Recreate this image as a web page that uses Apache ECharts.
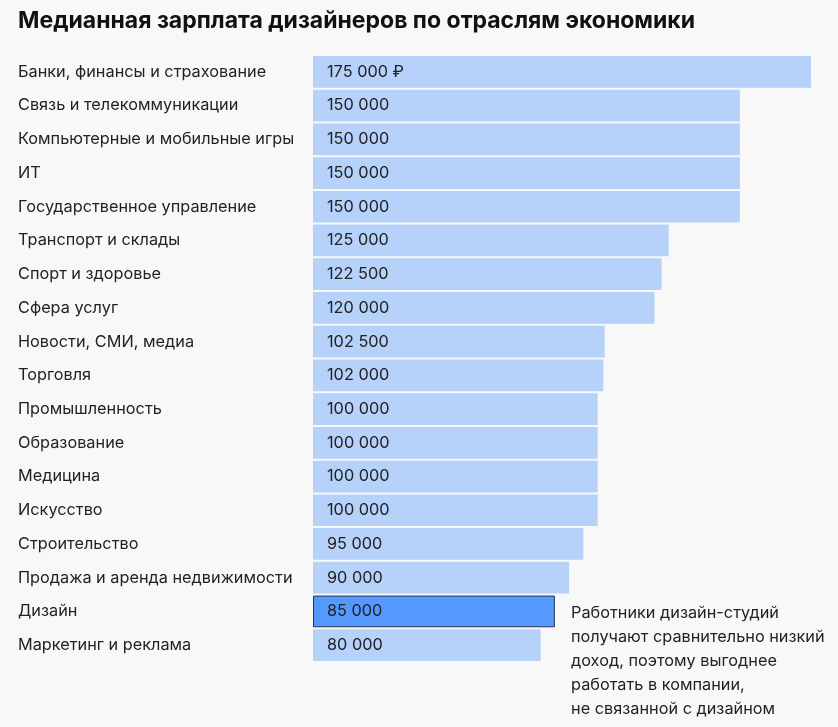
<!DOCTYPE html>
<html><head><meta charset="utf-8">
<script src="https://cdn.jsdelivr.net/npm/echarts@6/dist/echarts.min.js"></script>
<style>html,body{margin:0;padding:0;background:#f8f8f8}#c{width:838px;height:727px}</style>
</head><body><div id="c"></div>
<script>
const categories = ["Банки, финансы и страхование","Связь и телекоммуникации","Компьютерные и мобильные игры","ИТ","Государственное управление","Транспорт и склады","Спорт и здоровье","Сфера услуг","Новости, СМИ, медиа","Торговля","Промышленность","Образование","Медицина","Искусство","Строительство","Продажа и аренда недвижимости","Дизайн","Маркетинг и реклама"];
const values = [175000,150000,150000,150000,150000,125000,122500,120000,102500,102000,100000,100000,100000,100000,95000,90000,85000,80000];
const highlight = "Дизайн";
const titleText = "Медианная зарплата дизайнеров по отраслям экономики";
const noteText = "Работники дизайн-студий\nполучают сравнительно низкий\nдоход, поэтому выгоднее\nработать в компании,\nне связанной с дизайном";
const FONT = "Inter, Roboto, sans-serif";
const chart = echarts.init(document.getElementById('c'));
function fmt(v){ return String(v).replace(/\B(?=(\d{3})+(?!\d))/g, ' '); }
chart.setOption({
  backgroundColor: '#f8f8f8',
  animation: false,
  title: {text: titleText, left: 13, top: 5, textStyle: {fontFamily: FONT, fontSize: 23, fontWeight: 'bold', color: '#111'}},
  grid: {left: 313, top: 55, width: 498, height: 607},
  xAxis: {type: 'value', min: 0, max: 175000, show: false},
  yAxis: {type: 'category', data: categories, inverse: true,
    axisLine: {show: false}, axisTick: {show: false},
    axisLabel: {align: 'left', margin: 295, fontFamily: FONT, fontSize: 16.3, color: '#222'}},
  series: [{type: 'bar', barCategoryGap: '6%',
    data: values.map((v, i) => categories[i] === highlight
      ? {value: v, itemStyle: {color: '#5599ff', borderColor: '#26344d', borderWidth: 1}}
      : {value: v}),
    itemStyle: {color: '#b6d2fb'},
    label: {show: true, position: 'insideLeft', offset: [9, 0], fontFamily: FONT, fontSize: 16.3, color: '#222',
      formatter: p => fmt(p.value) + (p.dataIndex === 0 ? ' ₽' : '')}
  }],
  graphic: [{type: 'text', left: 571, top: 601, style: {text: noteText, fontFamily: FONT, fontSize: 16.3, lineHeight: 24, fill: '#222'}}]
});
</script></body></html>
